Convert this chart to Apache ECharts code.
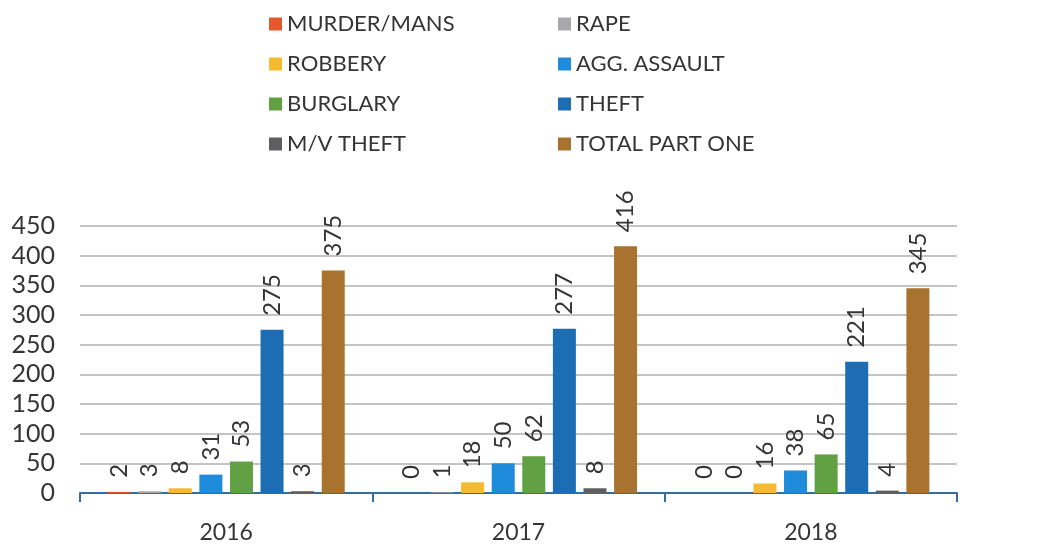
<!DOCTYPE html>
<html>
<head>
<meta charset="utf-8">
<script src="https://cdn.jsdelivr.net/npm/echarts@6/dist/echarts.min.js"></script>
<style>html,body{margin:0;padding:0;background:#fff;}#c{width:1044px;height:546px;}</style>
</head>
<body>
<div id="c"></div>
<script>
var years = ['2016', '2017', '2018'];
var seriesNames = ['MURDER/MANS', 'RAPE', 'ROBBERY', 'AGG. ASSAULT', 'BURGLARY', 'THEFT', 'M/V THEFT', 'TOTAL PART ONE'];
var murder = [2, 0, 0];
var rape = [3, 1, 0];
var robbery = [8, 18, 16];
var aggAssault = [31, 50, 38];
var burglary = [53, 62, 65];
var theft = [275, 277, 221];
var mvTheft = [3, 8, 4];
var totalPartOne = [375, 416, 345];
var yTicks = [0, 50, 100, 150, 200, 250, 300, 350, 400, 450];

var values = [murder, rape, robbery, aggAssault, burglary, theft, mvTheft, totalPartOne];
var colors = ['#E5572E', '#A9A9AB', '#F4BA30', '#1E8BDB', '#62A044', '#1C6DB3', '#5E5E60', '#A8732E'];
var font = 'Lato, "Liberation Sans", sans-serif';
var textColor = '#353535';

var chart = echarts.init(document.getElementById('c'), null, {renderer: 'canvas'});
var series = seriesNames.map(function (n, i) {
  return {
    name: n,
    type: 'bar',
    data: values[i],
    barWidth: 23,
    barGap: '33%',
    itemStyle: {color: colors[i]},
    label: {
      show: true,
      position: 'top',
      rotate: 90,
      align: 'left',
      verticalAlign: 'middle',
      distance: 14,
      fontFamily: font,
      fontSize: 24,
      color: textColor
    }
  };
});

chart.setOption({
  animation: false,
  backgroundColor: '#ffffff',
  legend: [
    {
      orient: 'vertical', left: 264, top: 8, itemGap: 18,
      icon: 'rect', itemWidth: 13, itemHeight: 13,
      textStyle: {fontFamily: font, fontSize: 22, color: textColor},
      data: [seriesNames[0], seriesNames[2], seriesNames[4], seriesNames[6]]
    },
    {
      orient: 'vertical', left: 553, top: 8, itemGap: 18,
      icon: 'rect', itemWidth: 13, itemHeight: 13,
      textStyle: {fontFamily: font, fontSize: 22, color: textColor},
      data: [seriesNames[1], seriesNames[3], seriesNames[5], seriesNames[7]]
    }
  ],
  grid: {left: 80, top: 226, width: 877, height: 267, containLabel: false},
  xAxis: {
    type: 'category',
    data: years,
    axisLine: {lineStyle: {color: '#2F6FA8', width: 2}},
    axisTick: {show: true, length: 9, alignWithLabel: false, lineStyle: {color: '#2F6FA8', width: 2}},
    axisLabel: {fontFamily: font, fontSize: 23, color: textColor, margin: 28}
  },
  yAxis: {
    type: 'value',
    min: yTicks[0],
    max: yTicks[yTicks.length - 1],
    interval: 50,
    axisLine: {show: false},
    axisTick: {show: false},
    axisLabel: {fontFamily: font, fontSize: 25, color: textColor, margin: 25},
    splitLine: {lineStyle: {color: '#C4C4C4', width: 2}}
  },
  series: series
});
</script>
</body>
</html>
